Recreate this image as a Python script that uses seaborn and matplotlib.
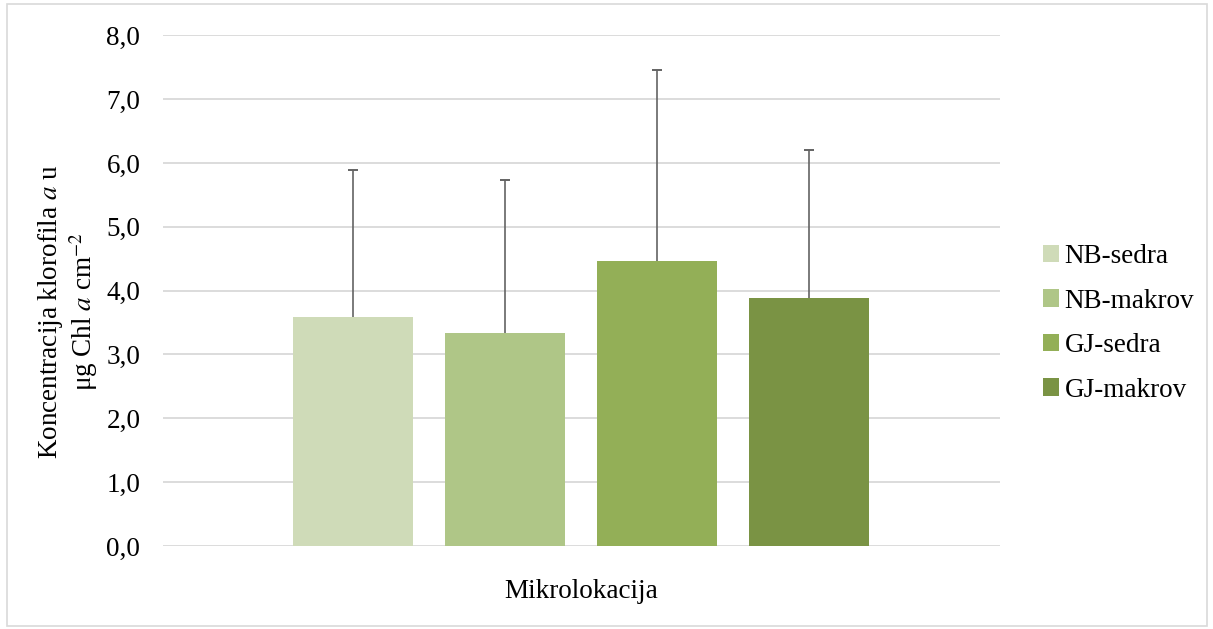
import matplotlib
matplotlib.use("Agg")
import matplotlib.pyplot as plt
import seaborn as sns
import pandas as pd
from matplotlib.patches import Rectangle

categories = ["NB-sedra", "NB-makrov", "GJ-sedra", "GJ-makrov"]
means = [3.59, 3.33, 4.46, 3.88]
errors = [2.30, 2.41, 2.99, 2.32]
colors = ["#CFDBB8", "#AFC687", "#93AF57", "#7A9344"]
yticks = [0, 1, 2, 3, 4, 5, 6, 7, 8]

df = pd.DataFrame({"grp": [""] * 4, "loc": categories, "val": means})

sns.set_theme(style="white")
plt.rcParams["font.family"] = ["Liberation Serif", "DejaVu Serif"]
plt.rcParams["mathtext.fontset"] = "stix"
plt.rcParams["text.color"] = "black"
plt.rcParams["axes.labelcolor"] = "black"
plt.rcParams["ytick.color"] = "black"
plt.rcParams["xtick.color"] = "black"

FS = 19.5
fig = plt.figure(figsize=(12.13, 6.29), dpi=100)
ax = fig.add_axes([0.134, 0.132, 0.690, 0.812])

sns.barplot(data=df, x="grp", y="val", hue="loc", hue_order=categories,
            palette=colors, width=0.726, gap=0.21, errorbar=None,
            saturation=1, ax=ax, linewidth=0)

bars = [p for p in ax.patches][:4]
xs = [b.get_x() + b.get_width() / 2 for b in bars]
eb = ax.errorbar(xs, means, yerr=[[0] * 4, errors], fmt="none", ecolor="#636363",
                 elinewidth=1.2, capsize=3.8, capthick=1.4, zorder=3)
caps = eb[1]
if len(caps) == 2:
    caps[0].set_visible(False)

ax.set_xlim(-0.5, 0.5)
ax.set_ylim(0, 8)
ax.set_yticks(yticks)
ax.set_yticklabels([f"{v:.1f}".replace(".", ",") for v in yticks], fontsize=FS,
                   color="black")
ax.set_xticks([])
ax.yaxis.grid(True, color="#D9D9D9", linewidth=1.3)
ax.set_axisbelow(True)
for s in ax.spines.values():
    s.set_visible(False)
ax.tick_params(axis="y", length=0, pad=16)

ax.set_xlabel("Mikrolokacija", fontsize=FS, labelpad=24, color="black")
ax.set_ylabel("Koncentracija klorofila $\\mathit{a}$ u\nμg Chl $\\mathit{a}$ cm$^{-2}$",
              fontsize=FS, linespacing=1.05, va="center", color="black")
ax.yaxis.set_label_coords(-0.113, 0.458)

leg = ax.legend(loc="center left", bbox_to_anchor=(1.039, 0.436), frameon=False,
                fontsize=FS, labelspacing=0.72, handlelength=0.6,
                handleheight=0.6, handletextpad=0.2, borderaxespad=0)
for t in leg.get_texts():
    t.set_color("black")

fig.patches.append(Rectangle((0.006, 0.004), 0.989, 0.989, transform=fig.transFigure,
                             fill=False, edgecolor="#D9D9D9", linewidth=1.2))

fig.savefig("out.png", dpi=100)
